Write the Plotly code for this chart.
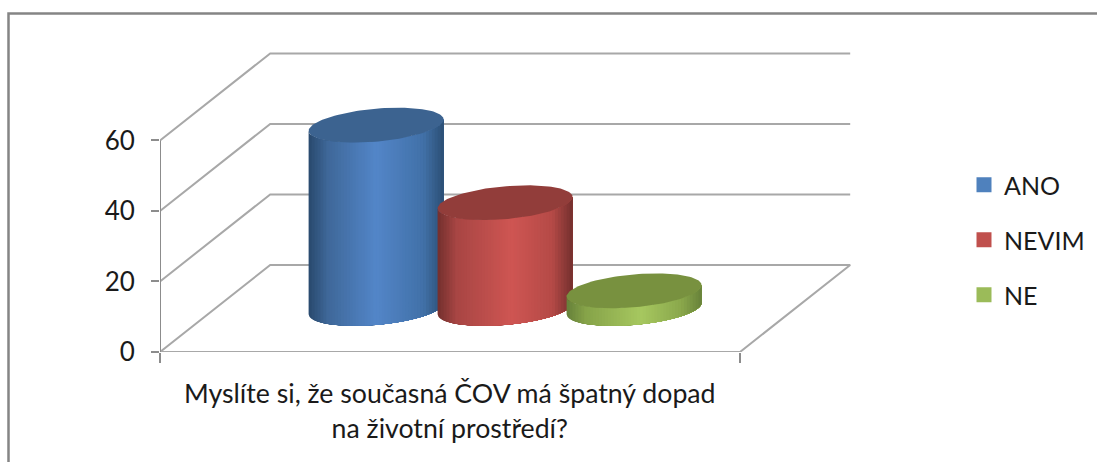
import numpy as np
import plotly.graph_objects as go

# --- data ---
series_names = ["ANO", "NEVIM", "NE"]
series_values = [52, 30, 5]
y_ticks = [0, 20, 40, 60]
category_label = "Myslíte si, že současná ČOV má špatný dopad<br>na životní prostředí?"

# --- style ---
legend_colors = ["#4f81bd", "#c0504d", "#9bbb59"]
top_colors = ["#3c6390", "#923d3a", "#78913f"]
side_stops = [
    [(0, "#29496d"), (0.14, "#3f6899"), (0.5, "#5386c9"), (0.85, "#4271a8"), (1, "#2c4f75")],
    [(0, "#73302e"), (0.14, "#a84644"), (0.55, "#cf5653"), (0.85, "#b54a47"), (1, "#74302e")],
    [(0, "#66803a"), (0.14, "#86a349"), (0.55, "#a7c860"), (0.85, "#8aa84c"), (1, "#68823a")],
]
GRID = "#a8a8a8"
AXIS = "#8c8c8c"
FRAME = "#858585"
FONT = "Lato"
TEXT = "#1a1a1a"

# --- oblique projection of the 3D box, in axis units ---
DX, DY = 0.19, 24.7        # how far the back wall sits from the front edge
SPACING = 0.2224           # distance between neighbouring cylinders
RX = 0.11                  # cylinder radius across
RD = 0.20                  # cylinder radius in depth (share of floor depth)
PW, PH = 937, 300          # plot area in pixels (runs to the right page edge)
XMAX, YMAX = PW / 580, 85.1


def hex_rgb(h):
    return np.array([int(h[i:i + 2], 16) for i in (1, 3, 5)], float)


def gradient(stops, f):
    for (f0, c0), (f1, c1) in zip(stops, stops[1:]):
        if f <= f1:
            c = hex_rgb(c0) + (hex_rgb(c1) - hex_rgb(c0)) * (f - f0) / (f1 - f0)
            return "rgb(%d,%d,%d)" % tuple(c)
    return stops[-1][1]


fig = go.Figure()


def poly(x, y, color):
    fig.add_trace(go.Scatter(x=x, y=y, mode="lines", fill="toself", fillcolor=color,
                             line=dict(width=0), showlegend=False,
                             hoverinfo="skip", cliponaxis=False))


def line(x, y, color=GRID, width=2):
    fig.add_trace(go.Scatter(x=x, y=y, mode="lines", line=dict(color=color, width=width),
                             showlegend=False, hoverinfo="skip", cliponaxis=False))


# walls and floor
for v in y_ticks:
    if v == 0:
        continue
    line([0, DX, 1 + DX], [v, v + DY, v + DY])
line([1, 0, DX, 1 + DX, 1], [0, 0, DY, DY, 0])
line([0, 0], [0, y_ticks[-1]], AXIS, 2)

# cylinders
t_right = np.arctan2(RD * DX, RX)
for i, (name, val) in enumerate(zip(series_names, series_values)):
    cx = 0.5 + 0.5 * DX + (i - 1) * SPACING
    y0 = 0.5 * DY

    def px(t):
        return cx + RX * np.cos(t) + RD * DX * np.sin(t)

    def py(t):
        return RD * DY * np.sin(t)

    n = 46
    # equal steps in x across the visible side; each strip runs on to the right
    # edge and is painted over by the next, so no seams show between strips
    fx = np.linspace(0, 1, n + 1)
    ts = t_right + np.pi + np.arccos(1 - 2 * fx)
    for k in range(n):
        arc = np.linspace(ts[k], ts[-1], 40)
        xs = px(arc)
        poly(list(xs) + list(xs[::-1]),
             list(y0 + py(arc)) + list((y0 + val + py(arc))[::-1]),
             gradient(side_stops[i], (fx[k] + fx[k + 1]) / 2))
    ring = np.linspace(0, 2 * np.pi, 121)
    poly(px(ring), y0 + val + py(ring), top_colors[i])

# legend entries
for i, name in enumerate(series_names):
    fig.add_trace(go.Scatter(x=[None], y=[None], mode="markers", name=name,
                             legendgroup=name,
                             marker=dict(symbol="square", size=15, color=legend_colors[i])))

fig.add_annotation(x=0.5, y=0, yshift=-23, xref="x", yref="y", text=category_label,
                   showarrow=False, yanchor="top", align="center",
                   font=dict(family=FONT, size=26.7, color=TEXT))

# chart frame: open on the right and at the bottom (pixel positions to paper units)
fl, ft = (8.5 - 160) / PW, (352 - 13.5) / PH
fig.add_shape(type="path", xref="paper", yref="paper",
              path=f"M {fl} {(352 - 462) / PH} L {fl} {ft} L 1 {ft}",
              line=dict(color=FRAME, width=2.5))

fig.update_layout(
    width=1097, height=462, autosize=False,
    margin=dict(l=160, r=0, t=52, b=110),
    paper_bgcolor="white", plot_bgcolor="rgba(0,0,0,0)",
    hovermode=False,
    font=dict(family=FONT, color=TEXT),
    xaxis=dict(range=[0, XMAX], tickvals=[0, 1], showticklabels=False, ticks="outside",
               ticklen=10, tickwidth=2, tickcolor=AXIS, showgrid=False, zeroline=False,
               showline=False),
    yaxis=dict(range=[0, YMAX], tickvals=y_ticks, ticks="outside", ticklen=8, tickwidth=2,
               tickcolor=AXIS, showgrid=False, zeroline=False, showline=False,
               ticklabelstandoff=11, tickfont=dict(family=FONT, size=26, color=TEXT)),
    legend=dict(x=(964 - 160) / PW, y=(352 - 162) / PH, xanchor="left", yanchor="top",
                tracegroupgap=19.5, font=dict(family=FONT, size=25, color=TEXT),
                bgcolor="rgba(0,0,0,0)", itemclick=False, itemdoubleclick=False),
)
fig.write_html("out.html", config={"displayModeBar": False},
               post_script="document.body.style.margin='0';document.body.style.overflow='hidden';")
